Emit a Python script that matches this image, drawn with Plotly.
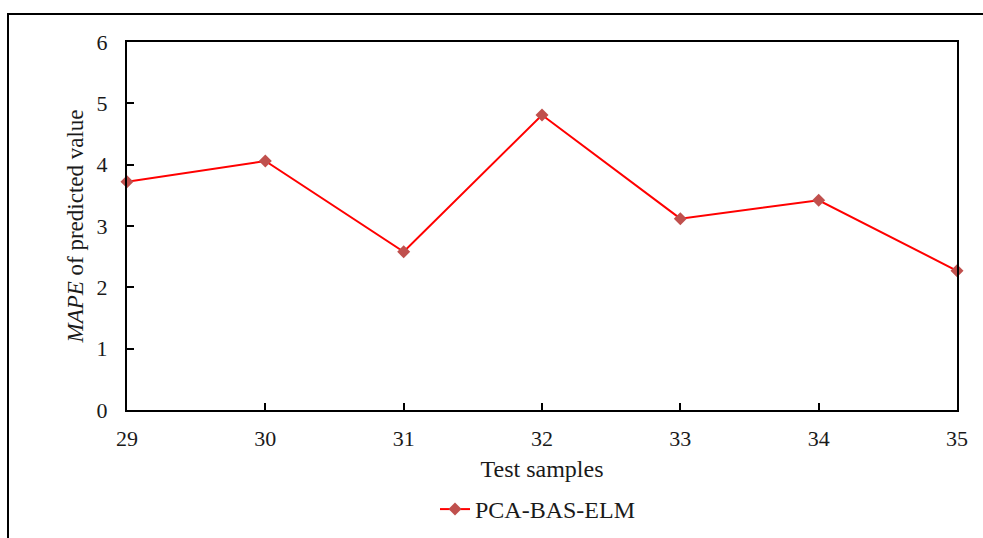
import plotly.graph_objects as go

samples = [29, 30, 31, 32, 33, 34, 35]
mape = [3.72, 4.06, 2.58, 4.81, 3.12, 3.42, 2.27]
series_name = "PCA-BAS-ELM"
x_title = "Test samples"
y_title = "<i>MAPE</i> of predicted value"

FONT = "Liberation Serif, Times New Roman, serif"
TXT = "#1a1a1a"

fig = go.Figure()
fig.add_trace(go.Scatter(
    x=samples, y=mape, mode="lines+markers", name=series_name,
    line=dict(color="#FF0000", width=2),
    marker=dict(symbol="diamond", size=10, color="#C0504D"),
    cliponaxis=False,
))

W, H = 983, 538
PW, PH = 830, 368
fig.update_layout(
    width=W, height=H,
    margin=dict(l=127, r=26, t=42, b=128, autoexpand=False),
    paper_bgcolor="white", plot_bgcolor="white",
    font=dict(family=FONT, size=22, color=TXT),
    showlegend=True,
    legend=dict(orientation="h", xref="container", x=(435) / W, xanchor="left",
                yref="container", y=(H - 487) / H, yanchor="top",
                font=dict(size=24, family=FONT, color=TXT)),
    xaxis=dict(
        range=[29, 35], tickvals=samples, ticks="inside", ticklen=7, tickwidth=2,
        tickcolor="black", showline=True, linecolor="black", linewidth=2, mirror=True,
        showgrid=False, zeroline=False, tickfont=dict(size=22, family=FONT, color=TXT),
        ticklabelstandoff=8, automargin=False,
        title=dict(text=x_title, font=dict(size=24, family=FONT, color=TXT), standoff=10),
    ),
    yaxis=dict(
        range=[0, 6], dtick=1, ticks="inside", ticklen=7, tickwidth=2,
        tickcolor="black", showline=True, linecolor="black", linewidth=2, mirror=True,
        showgrid=False, zeroline=False, tickfont=dict(size=22, family=FONT, color=TXT),
        ticklabelstandoff=13, automargin=False,
        title=dict(text=y_title, font=dict(size=23, family=FONT, color=TXT), standoff=7),
    ),
    shapes=[dict(type="rect", xref="paper", yref="paper",
                 x0=(8 - 127) / PW, x1=1.2, y0=-0.5, y1=1 + (42 - 14) / PH,
                 line=dict(color="black", width=2), fillcolor="rgba(0,0,0,0)", layer="below")],
)

fig.write_html("out.html", config={"displayModeBar": False},
               post_script="document.body.style.margin='0';")
